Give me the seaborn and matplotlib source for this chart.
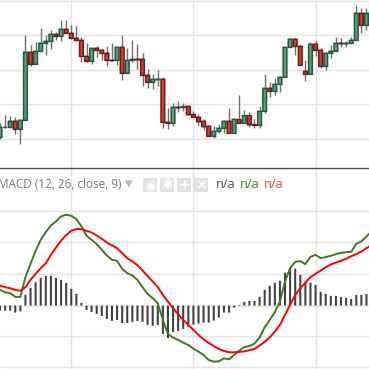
import numpy as np
import pandas as pd
import seaborn as sns
import matplotlib.pyplot as plt
from matplotlib.patches import Rectangle

# candles, in price units
opens = [92, 122, 122, 140, 116, 143, 347, 311, 350, 374, 380, 401, 395, 416, 404, 389, 383, 335, 320, 359,
         353, 344, 323, 323, 362, 284, 323, 326, 326, 278, 257, 265, 266, 137, 134, 182, 182, 185, 160, 152,
         140, 125, 95, 110, 119, 140, 104, 145, 134, 157, 130, 128, 170, 239, 230, 251, 272, 362, 386, 365,
         290, 281, 371, 353, 305, 344, 350, 374, 373, 374, 383, 464, 428, 464]
closes = [122, 122, 140, 116, 143, 347, 311, 350, 374, 380, 401, 395, 416, 404, 389, 383, 335, 320, 359, 353,
          344, 323, 322, 362, 284, 323, 326, 325, 278, 257, 266, 266, 137, 134, 182, 181, 184, 160, 152, 139,
          124, 95, 110, 119, 140, 104, 146, 134, 157, 130, 128, 170, 239, 230, 251, 272, 362, 386, 365, 308,
          281, 371, 353, 305, 344, 350, 374, 373, 374, 383, 464, 428, 464, 494]
highs = [134, 159, 156, 154, 147, 399, 369, 378, 420, 399, 414, 408, 444, 444, 428, 426, 392, 375, 359, 366,
         356, 366, 375, 364, 399, 360, 384, 372, 345, 297, 282, 294, 272, 180, 194, 201, 196, 185, 171, 161,
         147, 128, 126, 132, 143, 180, 150, 219, 173, 167, 147, 186, 282, 257, 269, 276, 362, 389, 389, 369,
         324, 377, 380, 359, 349, 368, 393, 390, 381, 392, 489, 479, 479, 504]
lows = [88, 119, 119, 102, 73, 143, 307, 311, 350, 340, 358, 384, 382, 404, 386, 380, 319, 319, 313, 334,
        323, 307, 321, 309, 264, 284, 319, 297, 246, 240, 238, 246, 120, 118, 127, 168, 171, 160, 152, 126,
        114, 95, 90, 106, 105, 104, 104, 134, 134, 124, 121, 121, 166, 214, 219, 229, 272, 362, 340, 308,
        262, 281, 337, 301, 295, 329, 350, 364, 364, 374, 383, 406, 414, 464]

# MACD pane
hist = [-15, -15, -15, -21, -17, 32, 53, 70, 83, 89, 89, 83, 77, 68, 50, 35, 8, -13, -19, -25,
        -31, -40, -46, -43, -52, -52, -49, -46, -49, -58, -61, -58, -85, -97, -79, -76, -70, -63, -57, -54,
        -51, -51, -45, -36, -21, -21, -6, 2, 11, 14, 14, 26, 47, 59, 68, 74, 98, 113, 110, 92,
        70, 68, 62, 41, 35, 29, 29, 26, 23, 20, 32, 32, 35, 35]
macd = [47, 40, 37, 26, 26, 85, 125, 164, 197, 220, 240, 252, 267, 272, 269, 259, 237, 209, 197, 184,
        167, 150, 137, 134, 110, 97, 90, 77, 55, 35, 22, 7, -43, -85, -96, -103, -111, -118, -129, -138,
        -148, -163, -168, -167, -158, -161, -148, -135, -124, -121, -114, -96, -65, -43, -20, 12, 72, 112, 131, 133,
        124, 146, 152, 142, 145, 149, 154, 158, 160, 161, 185, 192, 207, 222]
signal = [60, 55, 52, 47, 44, 55, 77, 95, 112, 127, 152, 174, 194, 211, 224, 229, 229, 224, 219, 210,
          200, 189, 180, 172, 157, 142, 132, 121, 105, 88, 72, 55, 32, 12, -8, -26, -43, -58, -73, -88,
          -101, -112, -121, -130, -136, -140, -140, -139, -137, -134, -130, -120, -109, -95, -78, -58, -28, 2, 32, 52,
          69, 85, 95, 105, 115, 123, 129, 134, 140, 148, 154, 162, 172, 181]

price_ticks = [86, 191, 293, 399, 501]
macd_ticks = [-185, -92, 0, 94, 190, 282]
time_ticks = [14, 38, 62]

sns.set_theme(style="white")
plt.rcParams["font.family"] = ["Open Sans", "DejaVu Sans"]

grid_col = "#e4e4e4"
df = pd.DataFrame({"bar": range(len(opens)), "open": opens, "close": closes, "high": highs, "low": lows})
df["bottom"] = df[["open", "close"]].min(axis=1)
df["height"] = (df["close"] - df["open"]).abs()
down = df["close"] < df["open"]

fig = plt.figure(figsize=(3.69, 3.69), dpi=100)
ax1 = fig.add_axes([0, 201 / 369, 1, 168 / 369])
ax2 = fig.add_axes([0, 0, 1, 201 / 369])

# candles
ax1.vlines(df["bar"], df["low"], df["high"], color="#6f6f6f", lw=1, zorder=2)
for part, face, edge in [(df[~down], "#5f9f7c", "#1f5a3f"), (df[down], "#d5432f", "#6b1a16")]:
    sns.barplot(x=part["bar"], y=part["height"], bottom=part["bottom"], native_scale=True, color=face,
                saturation=1, edgecolor=edge, linewidth=1.1, width=0.72, ax=ax1, zorder=3)
for p in ax1.patches:
    p.set_snap(False)
ax1.set_xlim(0, 72.5)
ax1.set_ylim(0, 504)
ax1.set_yticks(price_ticks)

# macd histogram and lines
sns.barplot(x=df["bar"], y=hist, native_scale=True, color="#404040", saturation=1, width=0.4,
            edgecolor="none", linewidth=0, ax=ax2, zorder=2)
for p in ax2.patches:
    p.set_snap(False)
sns.lineplot(x=df["bar"], y=macd, color="#3f7a22", lw=1.4, ax=ax2, zorder=3)
sns.lineplot(x=df["bar"], y=signal, color="#ff0000", lw=1.4, ax=ax2, zorder=4)
ax2.set_xlim(0, 72.5)
ax2.set_ylim(-190, 412)
ax2.set_yticks(macd_ticks)

for ax in (ax1, ax2):
    ax.set_xticks(time_ticks)
    ax.grid(True, color=grid_col, lw=1)
    ax.set_axisbelow(True)
    ax.set_xlabel("")
    ax.set_ylabel("")
    ax.tick_params(left=False, bottom=False, labelleft=False, labelbottom=False)
    sns.despine(ax=ax, left=True, right=True, bottom=True, top=True)
ax2.spines["top"].set_visible(True)
ax2.spines["top"].set_color("#4a4a4a")
ax2.spines["top"].set_linewidth(1)

# pane header
fig.text(-2 / 369, 1 - 184 / 369, "MACD (12, 26, close, 9)", fontsize=8.5, color="#777777", va="center", ha="left")
fig.text(216 / 369, 1 - 185 / 369, "n/a", fontsize=9.2, color="#555555", va="center")
fig.text(240 / 369, 1 - 185 / 369, "n/a", fontsize=9.2, color="#3f7a22", va="center")
fig.text(264 / 369, 1 - 185 / 369, "n/a", fontsize=9.2, color="#ff4040", va="center")
for left, glyph in zip([143, 160, 177, 194], ["◉", "✱", "+", "×"]):
    fig.add_artist(Rectangle((left / 369, 1 - 192 / 369), 14 / 369, 14 / 369, color="#e2e2e2", lw=0))
    fig.text((left + 7) / 369, 1 - 185 / 369, glyph, fontsize=10, color="white", ha="center", va="center",
             family=["DejaVu Sans"], fontweight="bold")
fig.text(129 / 369, 1 - 183.5 / 369, "▾", fontsize=11, color="#bbbbbb", ha="center", va="center", family=["DejaVu Sans"])

fig.savefig("out.png", dpi=100)
